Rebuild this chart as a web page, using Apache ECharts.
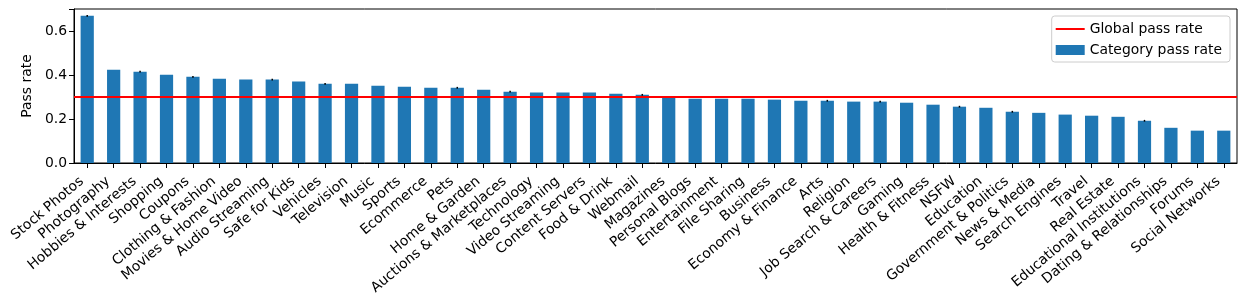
<!DOCTYPE html>
<html>
<head>
<meta charset="utf-8">
<script src="https://cdn.jsdelivr.net/npm/echarts@6/dist/echarts.min.js"></script>
<style>html,body{margin:0;padding:0;background:#fff;}#c{width:1246px;height:304px;}</style>
</head>
<body>
<div id="c"></div>
<script>
const categories = ["Stock Photos","Photography","Hobbies & Interests","Shopping","Coupons","Clothing & Fashion","Movies & Home Video","Audio Streaming","Safe for Kids","Vehicles","Television","Music","Sports","Ecommerce","Pets","Home & Garden","Auctions & Marketplaces","Technology","Video Streaming","Content Servers","Food & Drink","Webmail","Magazines","Personal Blogs","Entertainment","File Sharing","Business","Economy & Finance","Arts","Religion","Job Search & Careers","Gaming","Health & Fitness","NSFW","Education","Government & Politics","News & Media","Search Engines","Travel","Real Estate","Educational Institutions","Dating & Relationships","Forums","Social Networks"];
const passRate = [0.669,0.424,0.415,0.401,0.392,0.383,0.379,0.379,0.370,0.360,0.360,0.351,0.347,0.342,0.342,0.333,0.324,0.320,0.320,0.320,0.315,0.310,0.301,0.292,0.292,0.292,0.288,0.283,0.283,0.279,0.279,0.274,0.265,0.256,0.251,0.233,0.228,0.220,0.215,0.210,0.192,0.160,0.147,0.147];
const errors = [0.004,0,0.004,0,0.004,0,0,0.004,0,0.004,0,0,0,0,0.004,0,0.004,0,0,0,0,0.004,0,0,0,0,0,0,0.004,0,0.004,0,0,0.004,0,0.004,0,0,0,0,0.004,0,0,0];
const globalRate = 0.3;
const yTicks = [0.0, 0.2, 0.4, 0.6];

const FONT = 'DejaVu Sans';
const FS = 13.9;
const chart = echarts.init(document.getElementById('c'));
const errData = passRate.map((v, i) => [i, v, errors[i]]).filter(d => d[2] > 0);

chart.setOption({
  animation: false,
  textStyle: {fontFamily: FONT},
  grid: {left: 74, right: 9, top: 9, bottom: 141, show: true, borderColor: '#000', borderWidth: 1, backgroundColor: 'transparent'},
  legend: {
    orient: 'vertical', right: 16, top: 16, align: 'left',
    padding: [6, 8, 5, 4], itemGap: 7, itemWidth: 29, itemHeight: 10,
    borderColor: '#cccccc', borderWidth: 1, borderRadius: 3,
    textStyle: {fontFamily: FONT, fontSize: FS, color: '#000'},
    data: [
      {name: 'Global pass rate', icon: 'path://M0,0 L29,0 L29,2 L0,2 Z', itemStyle: {color: '#ff0000', borderWidth: 0}},
      {name: 'Category pass rate', icon: 'rect'}
    ]
  },
  xAxis: {
    type: 'category', data: categories, boundaryGap: true,
    axisLine: {show: true, lineStyle: {color: '#000', width: 1}},
    axisTick: {show: true, alignWithLabel: true, length: 5, lineStyle: {color: '#000'}},
    axisLabel: {interval: 0, rotate: 40, margin: 12, padding: [0, 7, 0, 0], fontFamily: FONT, fontSize: FS, color: '#000'},
    splitLine: {show: false}
  },
  yAxis: {
    type: 'value', min: 0, max: 0.7, interval: 0.2,
    name: 'Pass rate', nameLocation: 'middle', nameGap: 37,
    nameTextStyle: {fontFamily: FONT, fontSize: FS, color: '#000'},
    axisLine: {show: true, lineStyle: {color: '#000', width: 1}},
    axisTick: {show: true, length: 5, lineStyle: {color: '#000'}},
    axisLabel: {fontFamily: FONT, fontSize: FS, color: '#000', margin: 7,
      formatter: v => (yTicks.some(t => Math.abs(t - v) < 1e-9) ? v.toFixed(1) : '')},
    splitLine: {show: false}
  },
  series: [
    {
      name: 'Global pass rate', type: 'line', data: categories.map(() => null),
      symbol: 'none', itemStyle: {color: '#ff0000'}, lineStyle: {color: '#ff0000', width: 2},
      z: 5,
      markLine: {silent: true, symbol: 'none', label: {show: false},
        lineStyle: {color: '#ff0000', width: 2, type: 'solid'},
        data: [{yAxis: globalRate}]}
    },
    {
      name: 'Category pass rate', type: 'bar', data: passRate, barWidth: '50%',
      itemStyle: {color: '#1f77b4'}, z: 2
    },
    {
      name: 'err', type: 'custom', data: errData, z: 4, silent: true,
      renderItem: function (params, api) {
        const i = api.value(0), v = api.value(1), e = api.value(2);
        const p1 = api.coord([i, v - e]);
        const p2 = api.coord([i, v + e]);
        return {type: 'line', shape: {x1: p1[0], y1: p1[1], x2: p2[0], y2: p2[1]},
          style: {stroke: '#000', lineWidth: 1.5}};
      }
    }
  ]
});
</script>
</body>
</html>
